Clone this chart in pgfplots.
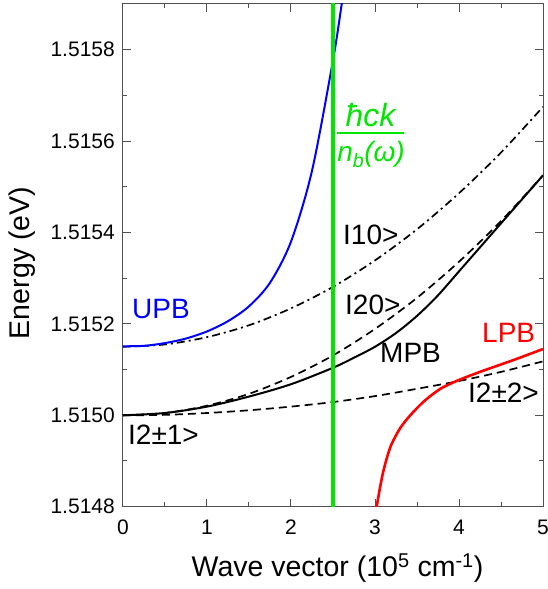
\documentclass[border=0pt]{standalone}
\usepackage{fontspec}
\setmainfont{Liberation Sans}
\usepackage{pgfplots}
\pgfplotsset{compat=1.18}

\definecolor{photon}{RGB}{0,230,0}
\definecolor{frame}{RGB}{80,80,80}

% Energies are given in units of 0.1 meV above 1.5148 eV
% (the tick labels carry the absolute values in eV).
\begin{document}
\begin{tikzpicture}
\useasboundingbox (-123pt,-82.3pt) rectangle (425pt,506.7pt);
\begin{axis}[
  at={(0pt,0pt)}, anchor=south west,
  scale only axis, width=420pt, height=502.7pt,
  xmin=0, xmax=5, ymin=0, ymax=11,
  axis line style={frame, line width=1pt},
  tick align=inside,
  xtick pos=both, ytick pos=both,
  xticklabel pos=lower, yticklabel pos=left,
  major tick length=8pt, minor tick length=4.5pt,
  tick style={frame, line width=1pt},
  xtick={0,1,2,3,4,5}, xticklabels={0,1,2,3,4,5}, minor x tick num=1,
  ytick={0,2,4,6,8,10},
  yticklabels={1.5148,1.5150,1.5152,1.5154,1.5156,1.5158},
  minor y tick num=1,
  tick label style={font=\fontsize{21}{25}\selectfont, inner sep=0pt},
  xticklabel style={anchor=north, yshift=-13pt},
  yticklabel style={anchor=east, xshift=-8pt},
]

% exciton |10>
\addplot[black, line width=1.7pt, smooth, dash pattern=on 8pt off 4pt on 2pt off 4pt]
  coordinates {(0,3.50) (0.5,3.55) (1,3.71) (1.5,3.97) (2,4.34) (2.5,4.81)
               (3,5.39) (3.5,6.07) (4,6.86) (4.5,7.75) (5,8.75)};
% exciton |20>
\addplot[black, line width=1.7pt, smooth, dash pattern=on 8pt off 5pt]
  coordinates {(0,2.00) (0.5,2.05) (1,2.21) (1.5,2.47) (2,2.84) (2.5,3.31)
               (3,3.89) (3.5,4.57) (4,5.36) (4.5,6.25) (5,7.25)};
% excitons |2+-1>, |2+-2>
\addplot[black, line width=1.7pt, smooth, dash pattern=on 8pt off 5pt]
  coordinates {(0,2.00) (0.5,2.01) (1,2.05) (1.5,2.11) (2,2.19) (2.5,2.29)
               (3,2.42) (3.5,2.58) (4,2.75) (4.5,2.95) (5,3.18)};

% middle polariton branch
\addplot[black, line width=2pt, smooth]
  coordinates {(0,2.00) (0.5,2.05) (1,2.19) (1.5,2.41) (2,2.68) (2.5,3.04)
               (2.75,3.26) (3,3.50) (3.25,3.80) (3.5,4.175) (3.75,4.625)
               (4,5.15) (4.25,5.675) (4.5,6.20) (4.75,6.725) (5,7.25)};
% upper polariton branch
\addplot[blue, line width=2pt, smooth]
  coordinates {(0,3.51) (0.25,3.52) (0.5,3.58) (0.75,3.68) (1.0,3.835)
               (1.25,4.06) (1.5,4.385) (1.75,4.90) (2.0,5.80) (2.25,7.35)
               (2.5,9.77) (2.6,10.95) (2.65,11.55)};
% lower polariton branch
\addplot[red, line width=2.6pt, smooth]
  coordinates {(2.99,-0.33) (3.02,0.0) (3.06,0.42) (3.10,0.78) (3.15,1.12)
               (3.20,1.38) (3.30,1.72) (3.42,2.00) (3.58,2.30) (3.77,2.57)
               (3.97,2.75) (4.25,2.95) (4.65,3.21) (5.0,3.45)};
% photon line
\addplot[photon, line width=3.5pt]
  coordinates {(2.5,-1) (2.5,12)};
\end{axis}

% axis titles
\node[rotate=90, inner sep=0pt, font=\fontsize{28.5}{34}\selectfont]
  at (-101pt,243.7pt) {Energy (eV)};
\node[inner sep=0pt, font=\fontsize{28.5}{34}\selectfont]
  at (214.5pt,-61.3pt) {Wave vector (10\textsuperscript{5} cm\textsuperscript{-1})};

% branch and state labels
\begin{scope}[every node/.style={inner sep=0pt, anchor=base west,
    font=\fontsize{28}{34}\selectfont}]
  \node[text=blue] at (9pt,187.7pt) {UPB};
  \node at (220pt,261.7pt) {I10>};
  \node at (222pt,191.7pt) {I20>};
  \node at (257pt,143.7pt) {MPB};
  \node[text=red] at (359pt,163.7pt) {LPB};
  \node at (345pt,103.7pt) {I2±2>};
  \node at (5pt,61.7pt) {I2±1>};
\end{scope}

% photon dispersion label
\node[inner sep=0pt, anchor=base, text=photon, font=\fontsize{32}{36}\selectfont\itshape]
  at (247.5pt,379.7pt) {ħck};
\draw[photon, line width=2pt] (214pt,373.4pt) -- (281pt,373.4pt);
\node[inner sep=0pt, anchor=base, text=photon, font=\fontsize{28}{34}\selectfont\itshape]
  at (248pt,344.7pt) {n\textsubscript{b}(ω)};
\end{tikzpicture}
\end{document}
